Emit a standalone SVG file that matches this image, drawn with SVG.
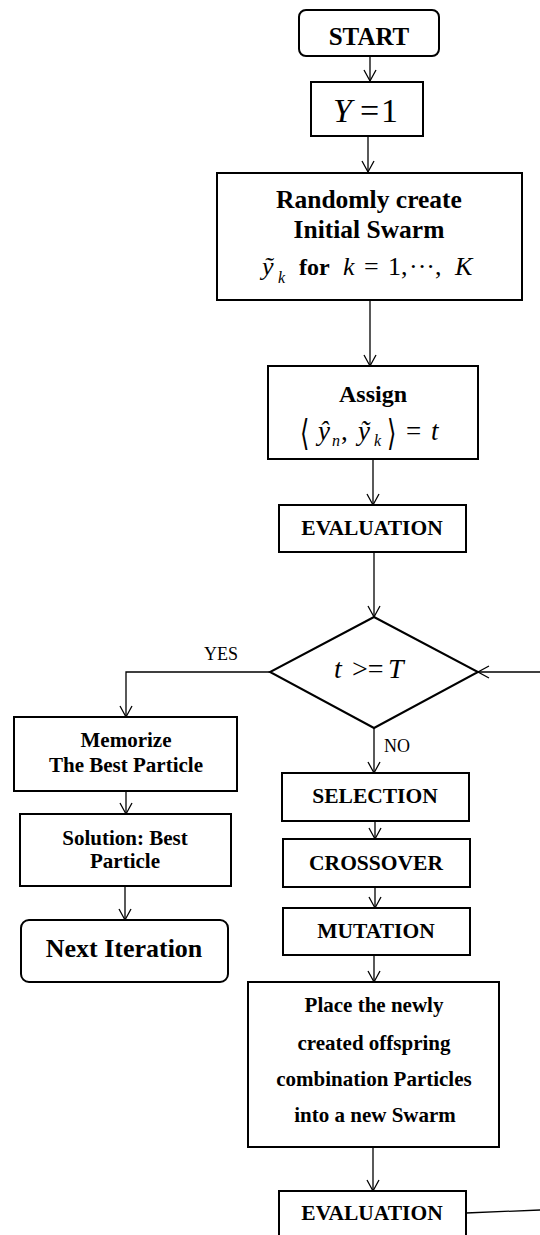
<svg xmlns="http://www.w3.org/2000/svg" width="540" height="1235" viewBox="0 0 540 1235">
<defs>
<style>
.box{fill:#fff;stroke:#000;stroke-width:2}
.c{fill:none;stroke:#000;stroke-width:1.3}
.t{font-family:"Liberation Serif","Times New Roman",serif;fill:#000;text-anchor:middle}
.b{font-weight:bold}
.m{font-family:"Liberation Serif","Times New Roman",serif;fill:#000}
.br{font-family:"DejaVu Serif","DejaVu Sans",serif;fill:#000}
</style>
<marker id="ah" viewBox="-12 -7 14 14" refX="0" refY="0" markerWidth="14" markerHeight="14" markerUnits="userSpaceOnUse" orient="auto">
<path d="M-11,-6 L0,0 L-11,6" fill="none" stroke="#000" stroke-width="1.3"/>
</marker>
</defs>
<rect width="540" height="1235" fill="#fff"/>

<g id="connectors">
<line class="c" x1="370" y1="56" x2="370" y2="81" marker-end="url(#ah)"/>
<line class="c" x1="368" y1="136" x2="368" y2="172" marker-end="url(#ah)"/>
<line class="c" x1="370" y1="300" x2="370" y2="366" marker-end="url(#ah)"/>
<line class="c" x1="373" y1="459" x2="373" y2="505" marker-end="url(#ah)"/>
<line class="c" x1="374" y1="552" x2="374" y2="617" marker-end="url(#ah)"/>
<polyline class="c" points="270,672 126,672 126,717" marker-end="url(#ah)"/>
<line class="c" x1="126" y1="791" x2="126" y2="814" marker-end="url(#ah)"/>
<line class="c" x1="125" y1="886" x2="125" y2="920" marker-end="url(#ah)"/>
<line class="c" x1="374" y1="728" x2="374" y2="773" marker-end="url(#ah)"/>
<line class="c" x1="375" y1="821" x2="375" y2="839" marker-end="url(#ah)"/>
<line class="c" x1="375" y1="887" x2="375" y2="908" marker-end="url(#ah)"/>
<line class="c" x1="374" y1="955" x2="374" y2="982" marker-end="url(#ah)"/>
<line class="c" x1="373" y1="1147" x2="373" y2="1191" marker-end="url(#ah)"/>
<line class="c" x1="466" y1="1213" x2="540" y2="1210" stroke-width="1.6"/>
<line class="c" x1="540" y1="672" x2="478" y2="672" marker-end="url(#ah)" stroke-width="1.6"/>
<text class="t" x="221" y="660" font-size="18">YES</text>
<text class="t" x="397" y="752" font-size="18">NO</text>
</g>

<g id="start">
<rect class="box" x="299" y="10" width="140" height="46" rx="7"/>
<text class="t b" x="369" y="45" font-size="25">START</text>
</g>

<g id="y1">
<rect class="box" x="311" y="82" width="112" height="54"/>
<text class="m" x="333" y="122" font-size="34"><tspan font-style="italic">Y</tspan><tspan x="360">=</tspan><tspan x="381">1</tspan></text>
</g>

<g id="init">
<rect class="box" x="217" y="173" width="305" height="127"/>
<text class="t b" x="369" y="208" font-size="25.5">Randomly create</text>
<text class="t b" x="369" y="238" font-size="25.5">Initial Swarm</text>
<text class="m" y="275" font-size="26"><tspan x="262" font-style="italic">ỹ</tspan><tspan x="278" y="283" font-size="16" font-style="italic">k</tspan><tspan x="299" y="275" font-size="24" font-weight="bold">for</tspan><tspan x="343" font-style="italic">k</tspan><tspan x="364">=</tspan><tspan x="388">1,</tspan><tspan x="409">···,</tspan><tspan x="455" font-style="italic">K</tspan></text>
</g>

<g id="assign">
<rect class="box" x="268" y="366" width="210" height="93"/>
<text class="t b" x="373" y="402" font-size="24">Assign</text>
<text class="br" x="300" y="445" font-size="30" transform="translate(300 445) scale(0.8 1.2) translate(-300 -445)">⟨</text>
<text class="m" y="440" font-size="27"><tspan x="318" font-style="italic">ŷ</tspan><tspan x="332" y="446" font-size="16" font-style="italic">n</tspan><tspan x="341" y="440">,</tspan><tspan x="358" font-style="italic">ỹ</tspan><tspan x="374" y="446" font-size="16" font-style="italic">k</tspan><tspan x="406" y="440">=</tspan><tspan x="431" font-style="italic">t</tspan></text>
<text class="br" x="387" y="445" font-size="30" transform="translate(387 445) scale(0.8 1.2) translate(-387 -445)">⟩</text>
</g>

<g id="eval1">
<rect class="box" x="279" y="505" width="187" height="47"/>
<text class="t b" x="372" y="535" font-size="21.5">EVALUATION</text>
</g>

<g id="decision">
<polygon class="box" points="374,617 478,672 374,728 270,672"/>
<text class="m" y="678" font-size="28"><tspan x="334" font-style="italic">t</tspan><tspan x="352">&gt;=</tspan><tspan x="388" font-style="italic">T</tspan></text>
</g>

<g id="memorize">
<rect class="box" x="14" y="717" width="223" height="74"/>
<text class="t b" x="126" y="747" font-size="21">Memorize</text>
<text class="t b" x="126" y="772" font-size="21">The Best Particle</text>
</g>

<g id="solution">
<rect class="box" x="20" y="814" width="211" height="72"/>
<text class="t b" x="125" y="845" font-size="21">Solution: Best</text>
<text class="t b" x="125" y="868" font-size="21">Particle</text>
</g>

<g id="next">
<rect class="box" x="21" y="920" width="207" height="62" rx="8"/>
<text class="t b" x="124" y="957" font-size="26">Next Iteration</text>
</g>

<g id="selection">
<rect class="box" x="282" y="773" width="187" height="48"/>
<text class="t b" x="375" y="803" font-size="21.5">SELECTION</text>
</g>

<g id="crossover">
<rect class="box" x="283" y="839" width="187" height="48"/>
<text class="t b" x="376" y="870" font-size="21.5">CROSSOVER</text>
</g>

<g id="mutation">
<rect class="box" x="283" y="908" width="187" height="47"/>
<text class="t b" x="376" y="938" font-size="21.5">MUTATION</text>
</g>

<g id="place">
<rect class="box" x="248" y="982" width="251" height="165"/>
<text class="t b" x="374" y="1012" font-size="21">Place the newly</text>
<text class="t b" x="374" y="1050" font-size="21">created offspring</text>
<text class="t b" x="374" y="1086" font-size="21">combination Particles</text>
<text class="t b" x="375" y="1122" font-size="21">into a new Swarm</text>
</g>

<g id="eval2">
<rect class="box" x="279" y="1191" width="187" height="60"/>
<text class="t b" x="372" y="1220" font-size="21.5">EVALUATION</text>
</g>
</svg>
